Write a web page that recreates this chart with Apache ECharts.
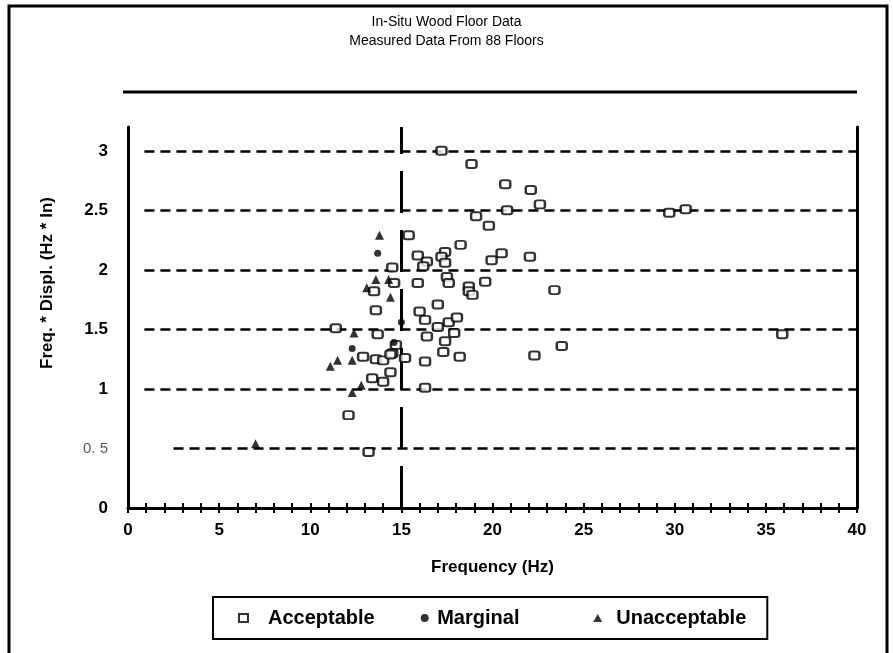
<!DOCTYPE html>
<html>
<head>
<meta charset="utf-8">
<script src="https://cdn.jsdelivr.net/npm/echarts@6/dist/echarts.min.js"></script>
<style>
html,body{margin:0;padding:0;background:#fff;}
#c{width:893px;height:653px;}
</style>
</head>
<body>
<div id="c"></div>
<script>
// Frequency (Hz), Freq*Displ (Hz*in)
const acceptable = [
  [17.2,3.0],[18.85,2.89],[20.7,2.72],[22.1,2.67],[22.6,2.55],[20.8,2.5],[19.1,2.45],[19.8,2.37],
  [29.7,2.48],[30.6,2.51],[22.05,2.11],[23.4,1.83],[23.8,1.36],[22.3,1.28],[35.9,1.46],
  [15.4,2.29],[18.25,2.21],[15.9,2.12],[16.4,2.07],[16.2,2.03],[17.4,2.15],[17.2,2.11],[17.4,2.06],
  [20.5,2.14],[19.95,2.08],[15.9,1.89],[17.5,1.94],[17.6,1.89],[19.6,1.90],[18.7,1.86],[18.7,1.82],
  [18.9,1.79],[17.0,1.71],[16.0,1.65],[16.3,1.58],[17.6,1.56],[18.05,1.60],[17.0,1.52],[16.4,1.44],
  [17.9,1.47],[17.4,1.40],[17.3,1.31],[15.2,1.26],[16.3,1.23],[18.2,1.27],[16.3,1.01],
  [14.5,2.02],[14.6,1.89],[13.5,1.82],[13.6,1.66],[11.4,1.51],[13.7,1.46],[14.7,1.37],[14.5,1.30],
  [12.9,1.27],[13.6,1.25],[14.0,1.24],[14.4,1.29],[13.4,1.09],[14.0,1.06],[14.4,1.14],[12.1,0.78],[13.2,0.47]
];
const marginal = [[13.7,2.14],[15.0,1.56],[14.6,1.39],[12.3,1.34]];
const unacceptable = [
  [13.8,2.29],[13.6,1.92],[14.3,1.92],[13.1,1.85],[14.4,1.77],[12.4,1.47],
  [11.1,1.19],[11.5,1.24],[12.3,1.24],[12.8,1.03],[12.3,0.97],[7.0,0.54]
];
const seriesNames = ['Acceptable','Marginal','Unacceptable'];
const yGridValues = [0.5,1,1.5,2,2.5,3];
const xTickLabels = [0,5,10,15,20,25,30,35,40];
const titleLines = ['In-Situ Wood Floor Data','Measured Data From 88 Floors'];
const xName = 'Frequency (Hz)';
const yName = 'Freq. * Displ. (Hz * In)';
const limitFreq = 15;

const FONT = '"Liberation Sans", Arial, sans-serif';
const chart = echarts.init(document.getElementById('c'), null, {renderer:'canvas'});

const gridLines = yGridValues.map(v => [
  {coord:[v === 0.5 ? 2.5 : 0.9, v], lineStyle:{type:[10,6], width:2.5, color:'#000'}},
  {coord:[40, v]}
]);

const option = {
  backgroundColor:'#fff',
  animation:false,
  title:{
    text: titleLines.join('\n'),
    left:'center', top:8,
    textStyle:{fontFamily:'"Liberation Sans Narrow", "Liberation Sans", Arial', fontSize:14, fontWeight:'normal', color:'#000', lineHeight:19}
  },
  grid:{left:128, right:36, top:127, bottom:145, containLabel:false},
  legend:{
    data:[
      {name:seriesNames[0], icon:'rect', textStyle:{padding:[0,0,0,15]}},
      {name:seriesNames[1], icon:'circle', textStyle:{padding:[0,0,0,3]}},
      {name:seriesNames[2], icon:'triangle', textStyle:{padding:[0,0,0,9]}}
    ],
    formatter: name => name === seriesNames[1] ? name + '\u00a0\u00a0\u00a0\u00a0\u00a0' : name,
    left:213, top:597,
    padding:[11,21,11,25],
    itemGap:46,
    itemWidth:9, itemHeight:8,
    borderColor:'#000', borderWidth:2,
    textStyle:{fontFamily:FONT, fontSize:20, fontWeight:'bold', color:'#000'}
  },
  xAxis:[{
    type:'value', min:0, max:40, interval:1,
    axisLine:{show:true, onZero:false, lineStyle:{color:'#000', width:3}},
    axisTick:{show:true, length:5, lineStyle:{color:'#000', width:2}},
    axisLabel:{
      margin:14, color:'#000', fontFamily:FONT, fontSize:17, fontWeight:'bold',
      formatter: v => xTickLabels.indexOf(v) >= 0 ? String(v) : ''
    },
    splitLine:{show:false},
    name:xName, nameLocation:'middle', nameGap:51,
    nameTextStyle:{fontFamily:FONT, fontSize:17, fontWeight:'bold', color:'#000'}
  },{
    type:'value', min:0, max:40, interval:1, position:'bottom',
    axisLine:{show:false},
    axisTick:{show:true, inside:true, length:5, lineStyle:{color:'#000', width:2}},
    axisLabel:{show:false}, splitLine:{show:false}
  }],
  yAxis:[{
    type:'value', min:0, max:3.2, interval:0.5,
    axisLine:{show:true, onZero:false, lineStyle:{color:'#000', width:3}},
    axisTick:{show:false},
    axisLabel:{
      margin:20, color:'#000', fontFamily:FONT, fontSize:17, fontWeight:'bold',
      formatter: v => {
        if (Math.abs(v*2 - Math.round(v*2)) > 1e-6) return '';
        if (v === 0.5) return '{g|0. 5}';
        return String(v);
      },
      rich:{g:{fontFamily:FONT, fontSize:15, fontWeight:'normal', color:'#555'}}
    },
    splitLine:{show:false}
  },{
    type:'value', min:0, max:3.2, interval:0.5, position:'right',
    axisLine:{show:true, onZero:false, lineStyle:{color:'#000', width:3}},
    axisTick:{show:false}, axisLabel:{show:false}, splitLine:{show:false}
  }],
  series:[
    {
      name:seriesNames[0], type:'scatter', data:acceptable,
      symbol:'roundRect', symbolSize:[10,8],
      itemStyle:{color:'#fff', borderColor:'#000', borderWidth:2.2},
      z:5,
      markLine:{
        silent:true, symbol:'none', label:{show:false}, z:1,
        data: gridLines.concat([[
          {coord:[limitFreq, 0], lineStyle:{type:[42,17], width:3, color:'#000'}},
          {coord:[limitFreq, 3.2]}
        ]])
      }
    },
    {
      name:seriesNames[1], type:'scatter', data:marginal,
      symbol:'circle', symbolSize:7,
      itemStyle:{color:'#000'}, z:6
    },
    {
      name:seriesNames[2], type:'scatter', data:unacceptable,
      symbol:'triangle', symbolSize:9,
      itemStyle:{color:'#000'}, z:6
    }
  ],
  graphic:[
    {type:'polyline', shape:{points:[[9,653],[9,6],[887,6],[887,653]]}, style:{stroke:'#000', lineWidth:3, fill:null}},
    {type:'line', shape:{x1:123, y1:92, x2:857, y2:92}, style:{stroke:'#000', lineWidth:3}},
    {type:'text', x:47, y:283, rotation:Math.PI/2,
     style:{text:yName, fontFamily:FONT, fontSize:17, fontWeight:'bold', fill:'#000', textAlign:'center', textVerticalAlign:'middle'}}
  ]
};
chart.setOption(option);
</script>
</body>
</html>
